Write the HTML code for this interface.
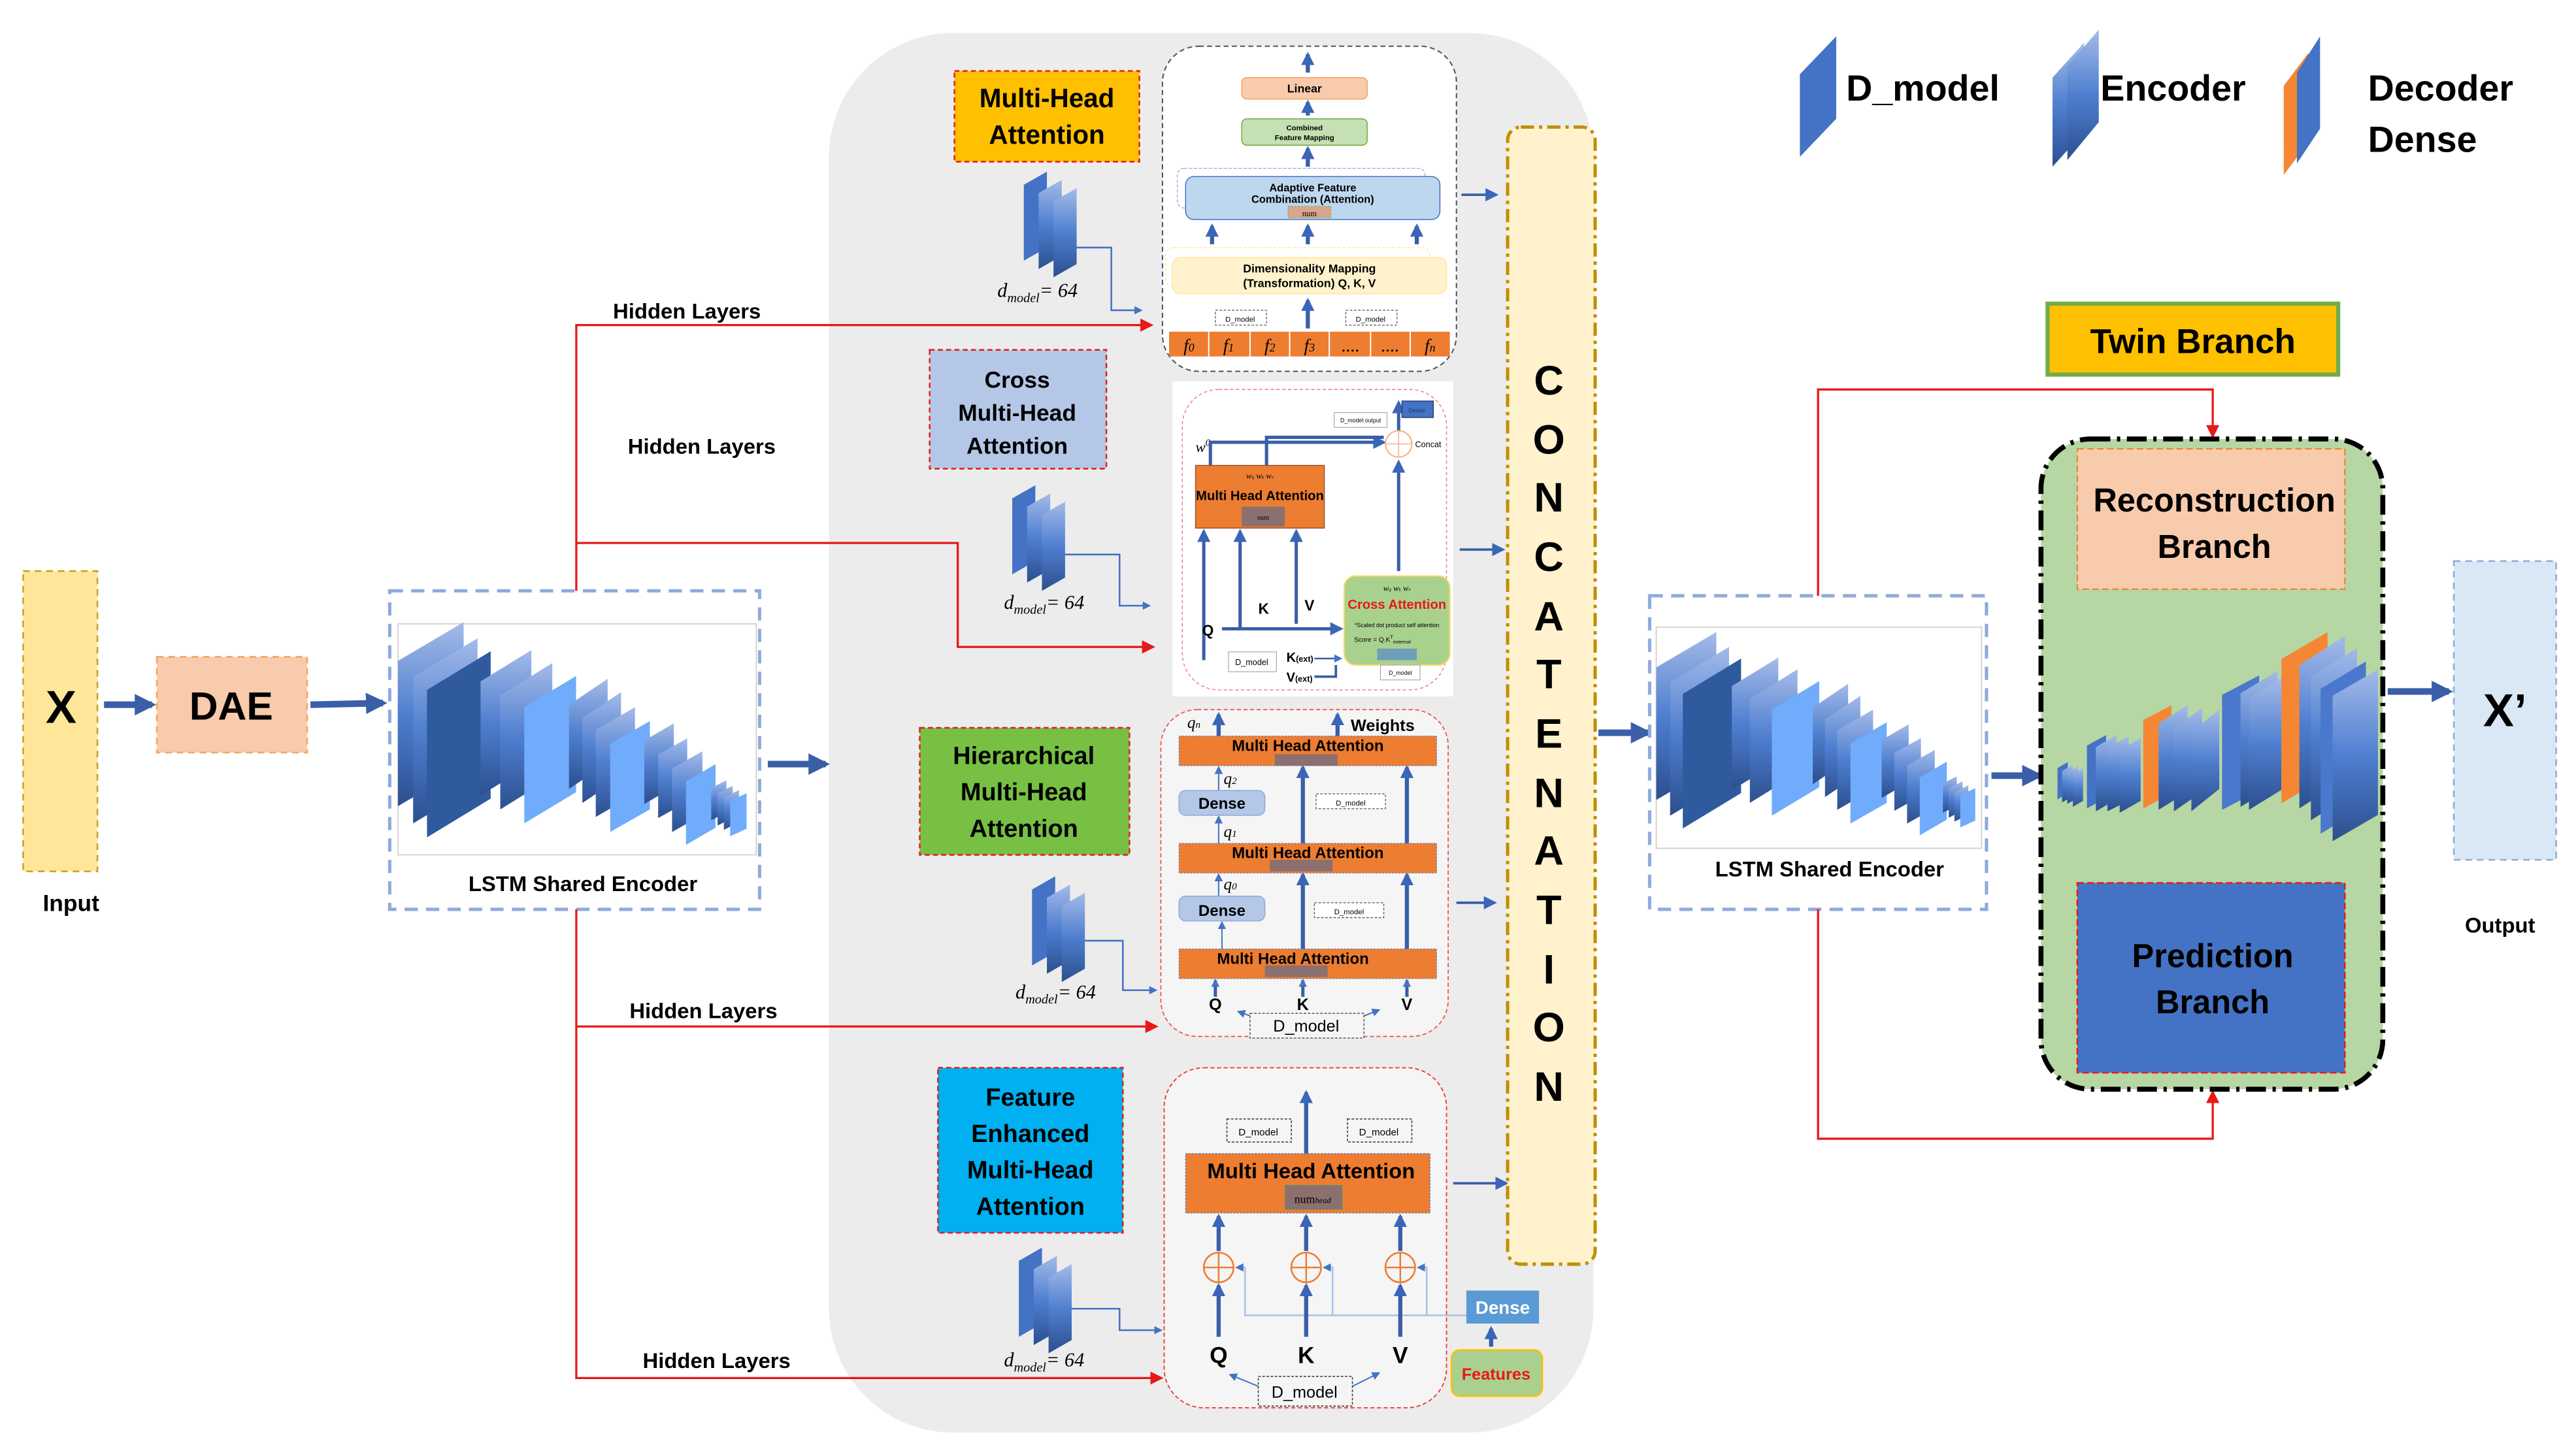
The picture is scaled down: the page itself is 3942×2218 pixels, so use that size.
<!DOCTYPE html>
<html><head><meta charset="utf-8"><style>
html,body{margin:0;padding:0;background:#fff;}
svg{display:block;font-family:"Liberation Sans",sans-serif;}
</style></head><body>
<svg width="3942" height="2218" viewBox="0 0 1560 878" preserveAspectRatio="none" xmlns="http://www.w3.org/2000/svg">
<defs>
<linearGradient id="g1" x1="0" y1="0" x2="0" y2="1"><stop offset="0" stop-color="#a4bbe8"/><stop offset="0.5" stop-color="#4f7fd0"/><stop offset="1" stop-color="#2c4f8f"/></linearGradient>
<linearGradient id="g2" x1="0" y1="0" x2="1" y2="1"><stop offset="0" stop-color="#9fb6e6"/><stop offset="1" stop-color="#2f5597"/></linearGradient>
<marker id="mB" viewBox="0 0 10 10" refX="8" refY="5" markerWidth="13" markerHeight="13" markerUnits="userSpaceOnUse" orient="auto"><path d="M0,0L10,5L0,10z" fill="#3a5fa8"/></marker>
<marker id="mb" viewBox="0 0 10 10" refX="8" refY="5" markerWidth="8" markerHeight="8" markerUnits="userSpaceOnUse" orient="auto"><path d="M0,0L10,5L0,10z" fill="#3a65b8"/></marker>
<marker id="mt" viewBox="0 0 10 10" refX="8" refY="5" markerWidth="5" markerHeight="5" markerUnits="userSpaceOnUse" orient="auto"><path d="M0,0L10,5L0,10z" fill="#4472c4"/></marker>
<marker id="mr" viewBox="0 0 10 10" refX="8" refY="5" markerWidth="8" markerHeight="8" markerUnits="userSpaceOnUse" orient="auto"><path d="M0,0L10,5L0,10z" fill="#e81818"/></marker>
<g id="stk">
<polygon points="0,12 14,4 14,50 0,58" fill="#4472c4"/>
<polygon points="9,17 23,9 23,55 9,63" fill="url(#g1)"/>
<polygon points="18,22 32,14 32,60 18,68" fill="url(#g1)"/>
</g>
<g id="enc">
<polygon points="65,385 325,205 325,880 65,1060" fill="url(#g1)"/>
<polygon points="125,460 380,280 380,960 125,1140" fill="url(#g1)"/>
<polygon points="180,520 432,340 432,1025 180,1205" fill="#2f5a9e"/>
<polygon points="392,480 593,335 593,865 392,1010" fill="url(#g1)"/>
<polygon points="470,545 676,395 676,925 470,1075" fill="url(#g1)"/>
<polygon points="565,600 770,455 770,995 565,1140" fill="#70acfb"/>
<polygon points="742,590 895,468 895,858 742,980" fill="url(#g1)"/>
<polygon points="795,650 948,530 948,925 795,1045" fill="url(#g1)"/>
<polygon points="848,705 1003,600 1003,1005 848,1110" fill="url(#g1)"/>
<polygon points="905,770 1062,665 1062,1075 905,1180" fill="#70acfb"/>
<polygon points="1040,755 1157,675 1157,970 1040,1050" fill="url(#g1)"/>
<polygon points="1095,820 1210,745 1210,1040 1095,1115" fill="url(#g1)"/>
<polygon points="1150,885 1270,805 1270,1100 1150,1180" fill="url(#g1)"/>
<polygon points="1205,945 1322,865 1322,1160 1205,1240" fill="#70acfb"/>
<polygon points="1305,975 1365,940 1365,1090 1305,1125" fill="url(#g1)"/>
<polygon points="1330,1000 1390,965 1390,1115 1330,1150" fill="url(#g1)"/>
<polygon points="1355,1020 1415,985 1415,1135 1355,1170" fill="url(#g1)"/>
<polygon points="1380,1035 1445,1000 1445,1165 1380,1200" fill="#70acfb"/>
</g>
</defs>

<!-- grey region -->
<rect x="502" y="20" width="463" height="848" rx="75" fill="#ececec"/>

<!-- Input -->
<rect x="14" y="346" width="45" height="182" fill="#ffe699" stroke="#c9a227" stroke-dasharray="4,3"/>
<text x="37" y="438" font-size="28" font-weight="bold" text-anchor="middle">X</text>
<text x="43" y="552" font-size="14" font-weight="bold" text-anchor="middle">Input</text>
<line x1="63" y1="427" x2="92" y2="427" stroke="#3a5fa8" stroke-width="4" marker-end="url(#mB)"/>
<rect x="95" y="398" width="91" height="58" fill="#f8cbad" stroke="#f4a460" stroke-dasharray="4,3"/>
<text x="140" y="436" font-size="24" font-weight="bold" text-anchor="middle">DAE</text>
<line x1="188" y1="427" x2="232" y2="426" stroke="#3a5fa8" stroke-width="4" marker-end="url(#mB)"/>

<!-- LSTM encoder left -->
<rect x="236" y="358" width="224" height="193" fill="#fff" stroke="#8faadc" stroke-width="2" stroke-dasharray="8,5"/>
<rect x="241" y="378" width="217" height="140" fill="#fff" stroke="#d0d0d0" stroke-width="0.7"/>
<use href="#enc" transform="translate(231.05,350.27) scale(0.153,0.1304)"/>
<text x="353" y="540" font-size="13" font-weight="bold" text-anchor="middle">LSTM Shared Encoder</text>
<line x1="465" y1="463" x2="500" y2="463" stroke="#3a5fa8" stroke-width="4" marker-end="url(#mB)"/>

<!-- red hidden layer connectors -->
<g fill="none" stroke="#e81818" stroke-width="1.3">
<polyline points="349,358 349,197 697,197" marker-end="url(#mr)"/>
<polyline points="349,329 580,329 580,392 698,392" marker-end="url(#mr)"/>
<polyline points="349,551 349,835 703,835" marker-end="url(#mr)"/>
<polyline points="349,622 700,622" marker-end="url(#mr)"/>
</g>
<g font-size="13" font-weight="bold" text-anchor="middle">
<text x="416" y="193">Hidden Layers</text>
<text x="425" y="275">Hidden Layers</text>
<text x="426" y="617">Hidden Layers</text>
<text x="434" y="829">Hidden Layers</text>
</g>

<!-- label boxes -->
<rect x="578" y="43" width="112" height="55" fill="#ffc000" stroke="#e02020" stroke-dasharray="3,2"/>
<text x="634" y="65" font-size="16" font-weight="bold" text-anchor="middle">Multi-Head</text>
<text x="634" y="87" font-size="16" font-weight="bold" text-anchor="middle">Attention</text>
<rect x="563" y="212" width="107" height="72" fill="#b4c7e7" stroke="#e02020" stroke-dasharray="3,2"/>
<text x="616" y="235" font-size="14" font-weight="bold" text-anchor="middle">Cross</text>
<text x="616" y="255" font-size="14" font-weight="bold" text-anchor="middle">Multi-Head</text>
<text x="616" y="275" font-size="14" font-weight="bold" text-anchor="middle">Attention</text>
<rect x="557" y="441" width="127" height="77" fill="#77c043" stroke="#e02020" stroke-dasharray="3,2"/>
<text x="620" y="463" font-size="15" font-weight="bold" text-anchor="middle">Hierarchical</text>
<text x="620" y="485" font-size="15" font-weight="bold" text-anchor="middle">Multi-Head</text>
<text x="620" y="507" font-size="15" font-weight="bold" text-anchor="middle">Attention</text>
<rect x="568" y="647" width="112" height="100" fill="#00b0f0" stroke="#e02020" stroke-dasharray="3,2"/>
<text x="624" y="670" font-size="15" font-weight="bold" text-anchor="middle">Feature</text>
<text x="624" y="692" font-size="15" font-weight="bold" text-anchor="middle">Enhanced</text>
<text x="624" y="714" font-size="15" font-weight="bold" text-anchor="middle">Multi-Head</text>
<text x="624" y="736" font-size="15" font-weight="bold" text-anchor="middle">Attention</text>

<!-- stacks -->
<use href="#stk" transform="translate(620,100)"/>
<use href="#stk" transform="translate(613,290)"/>
<use href="#stk" transform="translate(625,527)"/>
<use href="#stk" transform="translate(617,752)"/>
<g fill="none" stroke="#4472c4" stroke-width="1">
<polyline points="652,150 673,150 673,188 691,188" marker-end="url(#mt)"/>
<polyline points="645,336 678,336 678,367 696,367" marker-end="url(#mt)"/>
<polyline points="657,570 680,570 680,600 700,600" marker-end="url(#mt)"/>
<polyline points="649,793 678,793 678,806 703,806" marker-end="url(#mt)"/>
</g>
<g font-family="Liberation Serif,serif" font-style="italic" font-size="12">
<text x="604" y="180">d<tspan font-size="8" dy="3">model</tspan><tspan dy="-3">= 64</tspan></text>
<text x="608" y="369">d<tspan font-size="8" dy="3">model</tspan><tspan dy="-3">= 64</tspan></text>
<text x="615" y="605">d<tspan font-size="8" dy="3">model</tspan><tspan dy="-3">= 64</tspan></text>
<text x="608" y="828">d<tspan font-size="8" dy="3">model</tspan><tspan dy="-3">= 64</tspan></text>
</g>

<!-- Panel 1 -->
<rect x="704" y="28" width="178" height="197" rx="22" fill="#fff" stroke="#44546a" stroke-width="0.8" stroke-dasharray="3,2"/>
<g stroke="#3a5fa8" stroke-width="2.5" fill="none">
<line x1="792" y1="44" x2="792" y2="33" marker-end="url(#mb)"/>
<line x1="792" y1="70" x2="792" y2="62" marker-end="url(#mb)"/>
<line x1="792" y1="101" x2="792" y2="90" marker-end="url(#mb)"/>
<line x1="734" y1="148" x2="734" y2="137" marker-end="url(#mb)"/>
<line x1="792" y1="148" x2="792" y2="137" marker-end="url(#mb)"/>
<line x1="858" y1="148" x2="858" y2="137" marker-end="url(#mb)"/>
<line x1="792" y1="199" x2="792" y2="182" marker-end="url(#mb)"/>
</g>
<rect x="752" y="47" width="76" height="13" rx="3" fill="#f8cbad" stroke="#f4a460" stroke-width="0.6"/>
<text x="790" y="56" font-size="7" font-weight="bold" text-anchor="middle">Linear</text>
<rect x="752" y="72" width="76" height="16" rx="3" fill="#c5e0b4" stroke="#70ad47" stroke-width="0.6"/>
<text x="790" y="79" font-size="4.5" font-weight="bold" text-anchor="middle">Combined</text>
<text x="790" y="85" font-size="4.5" font-weight="bold" text-anchor="middle">Feature Mapping</text>
<rect x="713" y="102" width="150" height="24" rx="4" fill="none" stroke="#8faadc" stroke-width="0.5" stroke-dasharray="2,1"/>
<rect x="718" y="107" width="154" height="26" rx="5" fill="#bdd7ee" stroke="#4472c4" stroke-width="0.6"/>
<text x="795" y="116" font-size="6.5" font-weight="bold" text-anchor="middle">Adaptive Feature</text>
<text x="795" y="123" font-size="6.5" font-weight="bold" text-anchor="middle">Combination (Attention)</text>
<rect x="780" y="125" width="26" height="7" fill="#d9a58c" stroke="#70ad47" stroke-width="0.4" stroke-dasharray="1,1"/>
<text x="793" y="131" font-size="5" font-family="Liberation Serif,serif" text-anchor="middle">num</text>
<rect x="706" y="150" width="160" height="24" rx="5" fill="none" stroke="#ffe699" stroke-width="0.5" stroke-dasharray="2,1"/>
<rect x="710" y="156" width="166" height="22" rx="5" fill="#fff2cc" stroke="#ffe699" stroke-width="0.6"/>
<text x="793" y="165" font-size="7" font-weight="bold" text-anchor="middle">Dimensionality Mapping</text>
<text x="793" y="174" font-size="7" font-weight="bold" text-anchor="middle">(Transformation) Q, K, V</text>
<rect x="736" y="188" width="31" height="9" fill="#fff" stroke="#555" stroke-width="0.5" stroke-dasharray="1.5,1"/>
<text x="751" y="195" font-size="4.5" text-anchor="middle">D_model</text>
<rect x="815" y="188" width="31" height="9" fill="#fff" stroke="#555" stroke-width="0.5" stroke-dasharray="1.5,1"/>
<text x="830" y="195" font-size="4.5" text-anchor="middle">D_model</text>
<rect x="708" y="201" width="170" height="15" fill="#ed7d31"/>
<g stroke="#fff" stroke-width="0.8"><line x1="732" y1="201" x2="732" y2="216"/><line x1="757" y1="201" x2="757" y2="216"/><line x1="781" y1="201" x2="781" y2="216"/><line x1="805" y1="201" x2="805" y2="216"/><line x1="830" y1="201" x2="830" y2="216"/><line x1="854" y1="201" x2="854" y2="216"/></g>
<g font-family="Liberation Serif,serif" font-style="italic" font-size="11" text-anchor="middle">
<text x="720" y="213">f<tspan font-size="7">0</tspan></text><text x="744" y="213">f<tspan font-size="7">1</tspan></text><text x="769" y="213">f<tspan font-size="7">2</tspan></text><text x="793" y="213">f<tspan font-size="7">3</tspan></text><text x="818" y="213">....</text><text x="842" y="213">....</text><text x="866" y="213">f<tspan font-size="7">n</tspan></text>
</g>
<line x1="885" y1="118" x2="906" y2="118" stroke="#3a5fa8" stroke-width="1.5" marker-end="url(#mb)"/>

<!-- Panel 2 -->
<rect x="710" y="231" width="170" height="191" fill="#fff"/>
<rect x="716" y="236" width="160" height="182" rx="22" fill="none" stroke="#f08080" stroke-width="0.6" stroke-dasharray="2,1.5"/>
<text x="724" y="274" font-size="9" font-family="Liberation Serif,serif" font-style="italic">w<tspan font-size="6" dy="-4">0</tspan></text>
<g stroke="#3a5fa8" stroke-width="2" fill="none">
<polyline points="733,282 733,268 838,268" marker-end="url(#mb)"/>
<polyline points="767,282 767,265 838,265"/>
<line x1="847" y1="346" x2="847" y2="280" marker-end="url(#mb)"/>
<line x1="847" y1="262" x2="847" y2="244" marker-end="url(#mb)"/>
<line x1="729" y1="400" x2="729" y2="322" marker-end="url(#mb)"/>
<line x1="751" y1="380" x2="751" y2="322" marker-end="url(#mb)"/>
<line x1="785" y1="378" x2="785" y2="322" marker-end="url(#mb)"/>
<line x1="740" y1="381" x2="812" y2="381" marker-end="url(#mb)"/>
<line x1="796" y1="399" x2="812" y2="399" stroke-width="1" marker-end="url(#mt)"/>
<polyline points="796,410 809,410 809,403" stroke-width="1.5"/>
</g>
<circle cx="847" cy="269" r="8" fill="#fff" stroke="#f4b183" stroke-width="0.8"/>
<line x1="839" y1="269" x2="855" y2="269" stroke="#f4b183" stroke-width="0.6"/><line x1="847" y1="261" x2="847" y2="277" stroke="#f4b183" stroke-width="0.6"/>
<text x="857" y="271" font-size="5">Concat</text>
<rect x="849" y="243" width="19" height="10" fill="#4472c4" stroke="#1f3864" stroke-width="0.5"/>
<text x="858" y="250" font-size="3.5" fill="#1f3864" text-anchor="middle">Dense</text>
<rect x="808" y="250" width="32" height="9" fill="#fff" stroke="#999" stroke-width="0.4"/>
<text x="824" y="256" font-size="3.5" text-anchor="middle">D_model output</text>
<rect x="724" y="282" width="78" height="38" fill="#ed7d31" stroke="#8a4a20" stroke-width="0.5"/>
<text x="763" y="290" font-size="5" font-family="Liberation Serif,serif" font-style="italic" text-anchor="middle">w<tspan font-size="3">q</tspan>  w<tspan font-size="3">k</tspan>  w<tspan font-size="3">v</tspan></text>
<text x="763" y="303" font-size="8" font-weight="bold" text-anchor="middle">Multi Head Attention</text>
<rect x="752" y="307" width="26" height="12" fill="#8c6f6f"/>
<text x="765" y="315" font-size="4" text-anchor="middle" font-family="Liberation Serif,serif">num</text>
<text x="762" y="372" font-size="9" font-weight="bold">K</text>
<text x="790" y="370" font-size="9" font-weight="bold">V</text>
<text x="728" y="385" font-size="9" font-weight="bold">Q</text>
<rect x="814" y="349" width="64" height="54" rx="7" fill="#a9d18e" stroke="#ffd966" stroke-width="0.8"/>
<text x="846" y="358" font-size="5" font-family="Liberation Serif,serif" font-style="italic" text-anchor="middle">w<tspan font-size="3">q</tspan>  w<tspan font-size="3">k</tspan>  w<tspan font-size="3">v</tspan></text>
<text x="846" y="369" font-size="8" font-weight="bold" fill="#e81818" text-anchor="middle">Cross Attention</text>
<text x="846" y="380" font-size="3.5" text-anchor="middle">*Scaled dot product self attention</text>
<text x="820" y="389" font-size="4">Score = Q.K<tspan font-size="3" dy="-2">T</tspan><tspan font-size="3" dy="3">external</tspan></text>
<rect x="834" y="393" width="24" height="7" fill="#6e9eb8"/>
<rect x="836" y="403" width="24" height="9" fill="#fff" stroke="#999" stroke-width="0.4"/>
<text x="848" y="409" font-size="3.5" text-anchor="middle">D_model</text>
<rect x="744" y="395" width="29" height="12" fill="#fff" stroke="#999" stroke-width="0.4"/>
<text x="758" y="403" font-size="5" text-anchor="middle">D_model</text>
<text x="779" y="401" font-size="8" font-weight="bold">K<tspan font-size="5">(ext)</tspan></text>
<text x="779" y="413" font-size="8" font-weight="bold">V<tspan font-size="5">(ext)</tspan></text>
<line x1="884" y1="333" x2="910" y2="333" stroke="#3a5fa8" stroke-width="1.5" marker-end="url(#mb)"/>

<!-- Panel 3 -->
<rect x="703" y="430" width="174" height="198" rx="22" fill="#f5f5f5" stroke="#f05050" stroke-width="0.7" stroke-dasharray="2.5,1.5"/>
<g stroke="#3a5fa8" stroke-width="2.5" fill="none">
<line x1="738" y1="446" x2="738" y2="433" marker-end="url(#mb)"/>
<line x1="810" y1="446" x2="810" y2="433" marker-end="url(#mb)"/>
<line x1="789" y1="575" x2="789" y2="530" marker-end="url(#mb)"/>
<line x1="852" y1="575" x2="852" y2="530" marker-end="url(#mb)"/>
<line x1="789" y1="511" x2="789" y2="465" marker-end="url(#mb)"/>
<line x1="852" y1="511" x2="852" y2="465" marker-end="url(#mb)"/>
<line x1="736" y1="604" x2="736" y2="594" stroke-width="2" marker-end="url(#mt)"/>
<line x1="789" y1="604" x2="789" y2="594" stroke-width="2" marker-end="url(#mt)"/>
<line x1="852" y1="604" x2="852" y2="594" stroke-width="2" marker-end="url(#mt)"/>
</g>
<g stroke="#4472c4" stroke-width="0.8" fill="none">
<line x1="738" y1="479" x2="738" y2="465" marker-end="url(#mt)"/>
<line x1="738" y1="511" x2="738" y2="495" marker-end="url(#mt)"/>
<line x1="738" y1="543" x2="738" y2="530" marker-end="url(#mt)"/>
<line x1="740" y1="575" x2="740" y2="559" marker-end="url(#mt)"/>
<line x1="764" y1="618" x2="750" y2="613" marker-end="url(#mt)"/>
<line x1="820" y1="618" x2="835" y2="612" marker-end="url(#mt)"/>
</g>
<text x="719" y="441" font-size="10" font-family="Liberation Serif,serif" font-style="italic">q<tspan font-size="6">n</tspan></text>
<text x="818" y="443" font-size="10" font-weight="bold">Weights</text>
<g font-size="9.5" font-weight="bold" text-anchor="middle">
<rect x="714" y="446" width="156" height="18" fill="#ed7d31" stroke="#4472c4" stroke-width="0.4" stroke-dasharray="1,1"/>
<text x="792" y="455">Multi Head Attention</text>
<rect x="772" y="457" width="38" height="7" fill="#8c6f6f"/>
<rect x="714" y="511" width="156" height="18" fill="#ed7d31" stroke="#4472c4" stroke-width="0.4" stroke-dasharray="1,1"/>
<text x="792" y="520">Multi Head Attention</text>
<rect x="769" y="521" width="38" height="7" fill="#8c6f6f"/>
<rect x="714" y="575" width="156" height="18" fill="#ed7d31" stroke="#4472c4" stroke-width="0.4" stroke-dasharray="1,1"/>
<text x="783" y="584">Multi Head Attention</text>
<rect x="766" y="585" width="38" height="7" fill="#8c6f6f"/>
<rect x="714" y="479" width="52" height="15" rx="4" fill="#b4c7e7" stroke="#8faadc" stroke-width="0.6"/>
<text x="740" y="490">Dense</text>
<rect x="714" y="543" width="52" height="15" rx="4" fill="#b4c7e7" stroke="#8faadc" stroke-width="0.6"/>
<text x="740" y="555">Dense</text>
<text x="736" y="612" font-size="10">Q</text>
<text x="789" y="612" font-size="10">K</text>
<text x="852" y="612" font-size="10">V</text>
</g>
<g font-family="Liberation Serif,serif" font-style="italic" font-size="10">
<text x="741" y="475">q<tspan font-size="6">2</tspan></text>
<text x="741" y="507">q<tspan font-size="6">1</tspan></text>
<text x="741" y="539">q<tspan font-size="6">0</tspan></text>
</g>
<rect x="797" y="481" width="42" height="9" fill="#fff" stroke="#555" stroke-width="0.5" stroke-dasharray="1.5,1"/>
<text x="818" y="488" font-size="4.5" text-anchor="middle">D_model</text>
<rect x="796" y="547" width="42" height="9" fill="#fff" stroke="#555" stroke-width="0.5" stroke-dasharray="1.5,1"/>
<text x="817" y="554" font-size="4.5" text-anchor="middle">D_model</text>
<rect x="757" y="614" width="69" height="15" fill="#f5f5f5" stroke="#555" stroke-width="0.6" stroke-dasharray="1.5,1"/>
<text x="791" y="625" font-size="10" text-anchor="middle">D_model</text>
<line x1="882" y1="547" x2="905" y2="547" stroke="#3a5fa8" stroke-width="1.5" marker-end="url(#mb)"/>

<!-- Panel 4 -->
<rect x="705" y="647" width="171" height="206" rx="24" fill="#f5f5f5" stroke="#f03030" stroke-width="0.7" stroke-dasharray="2.5,1.5"/>
<g stroke="#a9c0e8" stroke-width="1" fill="none">
<polyline points="888,797 754,797 754,768 749,768" marker-end="url(#mt)"/>
<polyline points="807,797 807,768 802,768" marker-end="url(#mt)"/>
<polyline points="864,797 864,768 859,768" marker-end="url(#mt)"/>
</g>
<g stroke="#3a5fa8" stroke-width="2.5" fill="none">
<line x1="791" y1="699" x2="791" y2="662" marker-end="url(#mb)"/>
<line x1="738" y1="758" x2="738" y2="737" marker-end="url(#mb)"/>
<line x1="791" y1="758" x2="791" y2="737" marker-end="url(#mb)"/>
<line x1="848" y1="758" x2="848" y2="737" marker-end="url(#mb)"/>
<line x1="738" y1="810" x2="738" y2="779" marker-end="url(#mb)"/>
<line x1="791" y1="810" x2="791" y2="779" marker-end="url(#mb)"/>
<line x1="848" y1="810" x2="848" y2="779" marker-end="url(#mb)"/>
<line x1="903" y1="816" x2="903" y2="805" marker-end="url(#mb)"/>
</g>
<g stroke="#4472c4" stroke-width="0.8" fill="none">
<line x1="762" y1="840" x2="745" y2="833" marker-end="url(#mt)"/>
<line x1="819" y1="840" x2="835" y2="832" marker-end="url(#mt)"/>
</g>
<g fill="none" stroke="#ed7d31" stroke-width="1">
<circle cx="738" cy="768" r="9"/><line x1="729" y1="768" x2="747" y2="768"/><line x1="738" y1="759" x2="738" y2="777"/>
<circle cx="791" cy="768" r="9"/><line x1="782" y1="768" x2="800" y2="768"/><line x1="791" y1="759" x2="791" y2="777"/>
<circle cx="848" cy="768" r="9"/><line x1="839" y1="768" x2="857" y2="768"/><line x1="848" y1="759" x2="848" y2="777"/>
</g>
<rect x="743" y="678" width="39" height="14" fill="#f5f5f5" stroke="#333" stroke-width="0.6" stroke-dasharray="1.5,1"/>
<text x="762" y="688" font-size="6" text-anchor="middle">D_model</text>
<rect x="816" y="678" width="39" height="14" fill="#f5f5f5" stroke="#333" stroke-width="0.6" stroke-dasharray="1.5,1"/>
<text x="835" y="688" font-size="6" text-anchor="middle">D_model</text>
<rect x="718" y="699" width="148" height="36" fill="#ed7d31" stroke="#4472c4" stroke-width="0.5" stroke-dasharray="1,1"/>
<text x="794" y="714" font-size="13" font-weight="bold" text-anchor="middle">Multi Head Attention</text>
<rect x="778" y="718" width="35" height="15" fill="#8c6f6f" stroke="#70ad47" stroke-width="0.5" stroke-dasharray="1,1"/>
<text x="795" y="729" font-size="7" font-family="Liberation Serif,serif" text-anchor="middle">num<tspan font-size="5" font-style="italic">head</tspan></text>
<g font-size="14" font-weight="bold" text-anchor="middle"><text x="738" y="826">Q</text><text x="791" y="826">K</text><text x="848" y="826">V</text></g>
<rect x="762" y="834" width="57" height="18" fill="#f5f5f5" stroke="#333" stroke-width="0.6" stroke-dasharray="1.5,1"/>
<text x="790" y="847" font-size="10" text-anchor="middle">D_model</text>
<rect x="888" y="782" width="44" height="20" fill="#5b9bd5"/>
<text x="910" y="796" font-size="11" font-weight="bold" fill="#fff" text-anchor="middle">Dense</text>
<rect x="879" y="818" width="55" height="28" rx="5" fill="#a9d08e" stroke="#ffc000" stroke-width="1"/>
<text x="906" y="836" font-size="10" font-weight="bold" fill="#e81818" text-anchor="middle">Features</text>
<line x1="880" y1="717" x2="912" y2="717" stroke="#3a5fa8" stroke-width="1.5" marker-end="url(#mb)"/>

<!-- Concatenation -->
<rect x="913" y="77" width="53" height="689" rx="8" fill="#fff2cc" stroke="#bf9000" stroke-width="2" stroke-dasharray="8,3,2,3"/>
<g font-size="25" font-weight="bold" text-anchor="middle">
<text x="938" y="239">C</text><text x="938" y="275">O</text><text x="938" y="310">N</text><text x="938" y="346">C</text><text x="938" y="382">A</text><text x="938" y="417">T</text><text x="938" y="453">E</text><text x="938" y="489">N</text><text x="938" y="524">A</text><text x="938" y="560">T</text><text x="938" y="596">I</text><text x="938" y="631">O</text><text x="938" y="667">N</text>
</g>
<line x1="968" y1="444" x2="998" y2="444" stroke="#3a5fa8" stroke-width="4" marker-end="url(#mB)"/>

<!-- Right encoder -->
<rect x="999" y="361" width="204" height="190" fill="#fff" stroke="#8faadc" stroke-width="2" stroke-dasharray="8,5"/>
<rect x="1003" y="380" width="197" height="134" fill="#fff" stroke="#d0d0d0" stroke-width="0.7"/>
<use href="#enc" transform="translate(993.9,358.6) scale(0.14,0.119)"/>
<text x="1108" y="531" font-size="13" font-weight="bold" text-anchor="middle">LSTM Shared Encoder</text>
<line x1="1206" y1="470" x2="1235" y2="470" stroke="#3a5fa8" stroke-width="4" marker-end="url(#mB)"/>

<!-- Twin branch -->
<rect x="1240" y="184" width="176" height="43" fill="#ffc000" stroke="#70ad47" stroke-width="2.5"/>
<text x="1328" y="214" font-size="21" font-weight="bold" text-anchor="middle">Twin Branch</text>
<g fill="none" stroke="#e81818" stroke-width="1.3">
<polyline points="1101,361 1101,236 1340,236 1340,264" marker-end="url(#mr)"/>
<polyline points="1101,551 1101,690 1340,690 1340,662" marker-end="url(#mr)"/>
</g>
<rect x="1236" y="266" width="207" height="394" rx="30" fill="#b6d6a3" stroke="#000" stroke-width="3" stroke-dasharray="12,4,2,4"/>
<rect x="1258" y="272" width="162" height="85" fill="#f8cbad" stroke="#ed7d31" stroke-width="0.8" stroke-dasharray="4,2"/>
<text x="1341" y="310" font-size="20" font-weight="bold" text-anchor="middle">Reconstruction</text>
<text x="1341" y="338" font-size="20" font-weight="bold" text-anchor="middle">Branch</text>
<rect x="1258" y="535" width="162" height="115" fill="#4472c4" stroke="#e81818" stroke-width="1" stroke-dasharray="4,2"/>
<text x="1340" y="586" font-size="20" font-weight="bold" text-anchor="middle">Prediction</text>
<text x="1340" y="614" font-size="20" font-weight="bold" text-anchor="middle">Branch</text>
<g transform="translate(1232.05,255.4) scale(0.155,0.181)">
<polygon points="90,1160 130,1140 130,1245 90,1265" fill="#4472c4"/>
<polygon points="108,1170 150,1150 150,1255 108,1275" fill="url(#g1)"/>
<polygon points="128,1175 170,1155 170,1260 128,1280" fill="url(#g1)"/>
<polygon points="150,1180 190,1160 190,1270 150,1290" fill="url(#g1)"/>
<polygon points="205,1085 280,1050 280,1260 205,1295" fill="#4472c4"/>
<polygon points="240,1090 320,1050 320,1265 240,1305" fill="url(#g1)"/>
<polygon points="285,1090 368,1055 368,1270 285,1305" fill="url(#g1)"/>
<polygon points="333,1100 415,1060 415,1270 333,1310" fill="url(#g1)"/>
<polygon points="425,1000 535,950 535,1245 425,1295" fill="#f58634"/>
<polygon points="485,1010 598,950 598,1240 485,1300" fill="url(#g1)"/>
<polygon points="545,1025 655,960 655,1240 545,1305" fill="url(#g1)"/>
<polygon points="613,1040 722,965 722,1230 613,1305" fill="url(#g1)"/>
<polygon points="733,915 878,850 878,1235 733,1300" fill="#4a78cc"/>
<polygon points="805,910 950,835 950,1215 805,1290" fill="url(#g1)"/>
<polygon points="838,925 965,858 965,1233 838,1300" fill="url(#g1)"/>
<polygon points="965,795 1145,705 1145,1188 965,1278" fill="#f58634"/>
<polygon points="1035,815 1213,718 1213,1198 1035,1295" fill="url(#g1)"/>
<polygon points="1080,855 1260,758 1260,1238 1080,1335" fill="url(#g1)"/>
<polygon points="1118,895 1295,803 1295,1288 1118,1380" fill="#4a78cc"/>
<polygon points="1165,918 1342,830 1342,1317 1165,1405" fill="url(#g1)"/>
</g>
<line x1="1446" y1="419" x2="1483" y2="419" stroke="#3a5fa8" stroke-width="4" marker-end="url(#mB)"/>
<rect x="1486" y="340" width="62" height="181" fill="#dae8f5" stroke="#8faadc" stroke-dasharray="4,3"/>
<text x="1517" y="440" font-size="28" font-weight="bold" text-anchor="middle">X’</text>
<text x="1514" y="565" font-size="13" font-weight="bold" text-anchor="middle">Output</text>

<!-- Legend -->
<polygon points="1090,45 1112,22 1112,72 1090,95" fill="#4472c4"/>
<text x="1118" y="61" font-size="22" font-weight="bold">D_model</text>
<polygon points="1243,47 1262,26 1262,80 1243,101" fill="url(#g1)"/>
<polygon points="1252,40 1271,18 1271,74 1252,97" fill="url(#g1)"/>
<text x="1272" y="61" font-size="22" font-weight="bold">Encoder</text>
<polygon points="1383,52 1398,32 1398,86 1383,106" fill="#f58634"/>
<polygon points="1391,44 1405,22 1405,78 1391,99" fill="#4472c4"/>
<text x="1434" y="61" font-size="22" font-weight="bold">Decoder</text>
<text x="1434" y="92" font-size="22" font-weight="bold">Dense</text>
</svg>
</body></html>
